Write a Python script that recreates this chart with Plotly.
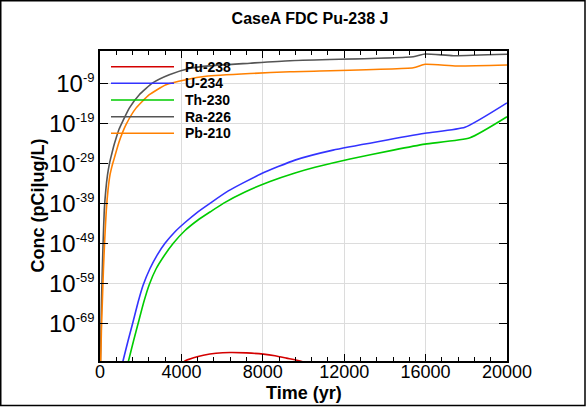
import plotly.graph_objects as go

# ---------------- data (log10 of concentration, pCi|ug/L) ----------------
series_names = ["Pu-238", "U-234", "Th-230", "Ra-226", "Pb-210"]
series_colors = ["#d40000", "#3333ff", "#00cc00", "#555555", "#ff8000"]

pu238_t = [4000, 4180, 4600, 5080, 5700, 6390, 7200, 8030, 8600, 9170, 9830, 10000]
pu238_log = [-79.2, -78.4, -77.6, -77.0, -76.5, -76.3, -76.4, -76.7, -77.1, -77.7, -78.4, -78.7]

u234_t = [1080, 1130, 1376, 1622, 1867, 2113, 2457, 2801, 3194, 3686, 4177, 4767, 5405, 6305,
          7946, 9580, 11450, 15970, 17935, 20000]
u234_log = [-79.6, -78.42, -73.42, -68.67, -63.8, -59.55, -55.3, -52.0, -49.0, -46.1, -43.8,
            -41.3, -39.0, -35.9, -31.55, -28.2, -25.7, -21.5, -20.0, -13.9]

th230_t = [1350, 1400, 1646, 1892, 2138, 2423, 2752, 3145, 3602, 4177, 4816, 5405, 6059, 7126,
           8354, 9583, 10566, 12285, 14413, 15970, 18182, 20000]
th230_log = [-79.4, -78.42, -73.42, -68.67, -63.92, -59.3, -55.42, -52.17, -49.0, -45.8, -43.17,
             -41.17, -39.0, -36.17, -33.55, -31.42, -30.0, -27.9, -25.7, -24.2, -22.6, -17.35]

ra226_t = [0, 20, 49, 74, 113, 157, 211, 285, 369, 467, 565, 663, 786, 934, 1115, 1440, 1931,
           2590, 3405, 4388, 5209, 7371, 9337, 15396, 15971, 17362, 20000]
ra226_log = [-82.0, -78.4, -70.7, -63.2, -55.7, -48.2, -40.7, -35.7, -31.9, -29.0, -26.9, -24.9,
             -22.8, -20.5, -18.5, -15.2, -11.85, -8.9, -6.85, -5.3, -4.7, -3.97, -3.35, -2.35,
             -1.67, -2.1, -1.75]

pb210_t = [0, 34, 69, 118, 167, 231, 310, 393, 491, 590, 703, 948, 1278, 1769, 2423, 3243, 4226,
           5209, 7371, 9337, 15396, 15971, 17529, 20000]
pb210_log = [-82.0, -78.4, -70.7, -63.2, -55.7, -48.2, -40.7, -35.7, -31.9, -29.7, -27.7, -23.5,
             -19.35, -15.2, -11.85, -9.35, -8.1, -7.25, -6.55, -6.1, -5.1, -4.25, -4.67, -4.42]

x_tick_vals = [0, 4000, 8000, 12000, 16000, 20000]
y_tick_exps = [-9, -19, -29, -39, -49, -59, -69]

title_text = "CaseA FDC Pu-238 J"
x_title = "Time (yr)"
y_title = "Conc (pCi|ug/L)"

# ---------------- figure ----------------
W, H = 587, 407
ML, MR, MT, MB = 100, 80, 51, 46
PW, PH = W - ML - MR, H - MT - MB


def px_x(p):
    return (p - ML) / PW


def px_y(p):
    return (H - MB - p) / PH


all_t = [pu238_t, u234_t, th230_t, ra226_t, pb210_t]
all_log = [pu238_log, u234_log, th230_log, ra226_log, pb210_log]

fig = go.Figure()
for name, col, t, lg in zip(series_names, series_colors, all_t, all_log):
    fig.add_trace(go.Scatter(
        x=t, y=[10 ** v for v in lg], mode="lines", name=name,
        line=dict(color=col, width=1.6, shape="spline", smoothing=0.5),
        showlegend=False, hoverinfo="skip",
    ))

FONT = "Liberation Sans, Arial, sans-serif"

# custom legend (lines + labels)
legend_y_px = [66.7, 83.3, 100.0, 116.7, 133.3]
for name, col, py in zip(series_names, series_colors, legend_y_px):
    fig.add_shape(type="line", xref="paper", yref="paper",
                  x0=px_x(111), x1=px_x(174), y0=px_y(py), y1=px_y(py),
                  line=dict(color=col, width=1.6))
    fig.add_annotation(xref="paper", yref="paper", x=px_x(183), y=px_y(py),
                       text="<b>%s</b>" % name, showarrow=False,
                       xanchor="left", yanchor="middle",
                       font=dict(family=FONT, size=14, color="black"))

# axis titles
fig.add_annotation(xref="paper", yref="paper", x=px_x(303.5), y=px_y(393),
                   text="<b>%s</b>" % x_title, showarrow=False,
                   xanchor="center", yanchor="middle",
                   font=dict(family=FONT, size=18, color="black"))
fig.add_annotation(xref="paper", yref="paper", x=px_x(37.5), y=px_y(206),
                   text="<b>%s</b>" % y_title, showarrow=False, textangle=-90,
                   xanchor="center", yanchor="middle",
                   font=dict(family=FONT, size=18, color="black"))

# outer frame
fig.add_shape(type="rect", xref="paper", yref="paper",
              x0=px_x(0.75), x1=px_x(585), y0=px_y(405.5), y1=px_y(0.75),
              line=dict(color="black", width=1.5), fillcolor="rgba(0,0,0,0)")

fig.update_layout(
    width=W, height=H,
    margin=dict(l=ML, r=MR, t=MT, b=MB, autoexpand=False),
    paper_bgcolor="white", plot_bgcolor="white",
    title=dict(text="<b>%s</b>" % title_text, x=px_x(310), xref="paper",
               y=1 - 18 / H, yref="container", xanchor="center", yanchor="middle",
               font=dict(family=FONT, size=16, color="black")),
    font=dict(family=FONT, color="black"),
)

fig.update_xaxes(
    range=[0, 20000], tickvals=x_tick_vals,
    ticktext=[str(v) for v in x_tick_vals],
    ticks="inside", ticklen=7, tickwidth=1.3, tickcolor="black",
    minor=dict(dtick=800, ticks="inside", ticklen=4, tickwidth=1.1,
               tickcolor="black", showgrid=False),
    showline=True, linecolor="black", linewidth=1.5, mirror="ticks",
    showgrid=True, gridcolor="#dcdcdc", gridwidth=1, zeroline=False,
    tickfont=dict(family=FONT, size=18, color="black"),
    ticklabelstandoff=-6, automargin=False,
)

fig.update_yaxes(
    type="log", range=[-78.42, -0.92],
    tickvals=[10.0 ** e for e in y_tick_exps],
    ticktext=["10<sup><span style='font-size:13px'>%d</span></sup>" % e for e in y_tick_exps],
    ticks="inside", ticklen=8, tickwidth=1.3, tickcolor="black",
    showline=True, linecolor="black", linewidth=1.5, mirror="ticks",
    showgrid=True, gridcolor="#dcdcdc", gridwidth=1, zeroline=False,
    tickfont=dict(family=FONT, size=24, color="black"),
    ticklabelstandoff=-1, automargin=False,
)

fig.write_html("out.html", config={"displayModeBar": False},
               post_script="document.body.style.margin='0px';document.body.style.overflow='hidden';")
